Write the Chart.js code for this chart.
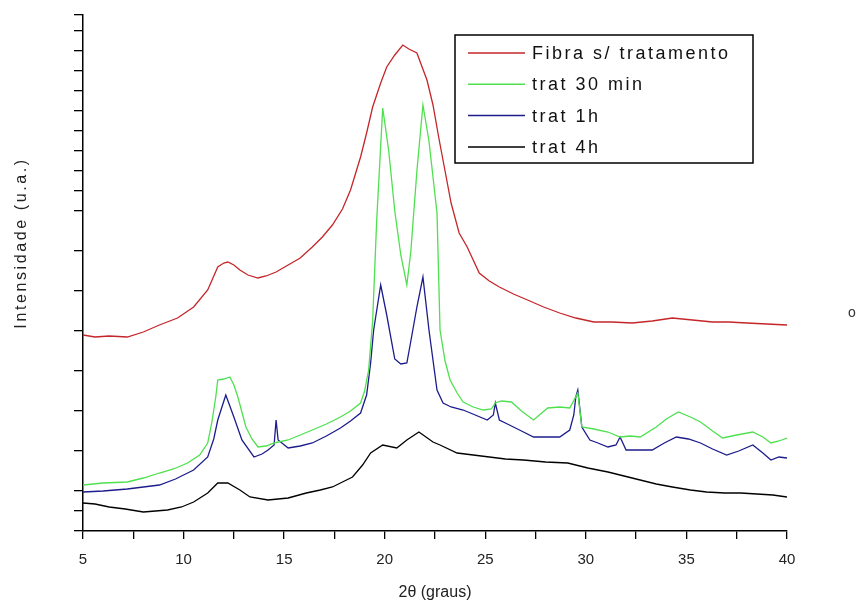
<!DOCTYPE html>
<html>
<head>
<meta charset="utf-8">
<script src="https://cdn.jsdelivr.net/npm/chart.js@4.4.1/dist/chart.umd.min.js"></script>
<style>
  html, body { margin: 0; padding: 0; background: #fff; }
</style>
</head>
<body>
<canvas id="xrdChart" width="857" height="611"></canvas>
<script>
// series names / colours
var seriesLabels = ['Fibra s/ tratamento', 'trat 30 min', 'trat 1h', 'trat 4h'];
var seriesColors = ['#c4262a', '#4fe04f', '#1c1c8c', '#000000'];

// 2theta (graus) and intensity (u.a.)
var fibraX = [5, 5.6, 6.3, 7.2, 8.0, 8.8, 9.7, 10.5, 11.2, 11.7, 12.0, 12.2, 12.5, 12.8, 13.2, 13.7, 14.1, 14.6, 15.2, 15.8, 16.4, 16.9, 17.4, 17.9, 18.3, 18.8, 19.1, 19.4, 19.8, 20.1, 20.5, 20.9, 21.2, 21.6, 22.1, 22.4, 22.7, 23.0, 23.3, 23.7, 24.1, 24.7, 25.2, 25.7, 26.4, 27.1, 27.9, 28.7, 29.5, 30.4, 31.3, 32.3, 33.3, 34.3, 35.3, 36.3, 37.1, 38.0, 39.0, 40];
var fibraY = [9.8, 9.7, 9.75, 9.7, 9.95, 10.3, 10.65, 11.2, 12.05, 13.2, 13.4, 13.45, 13.3, 13.05, 12.8, 12.65, 12.75, 12.95, 13.3, 13.65, 14.2, 14.7, 15.3, 16.1, 17.05, 18.7, 19.9, 21.2, 22.4, 23.2, 23.8, 24.3, 24.1, 23.9, 22.55, 21.3, 19.6, 18.0, 16.4, 14.9, 14.2, 12.9, 12.5, 12.2, 11.85, 11.55, 11.2, 10.9, 10.65, 10.45, 10.45, 10.4, 10.5, 10.65, 10.55, 10.45, 10.45, 10.4, 10.35, 10.3];

var trat30X = [5, 6.0, 7.2, 8.0, 8.8, 9.5, 10.2, 10.8, 11.2, 11.4, 11.6, 11.7, 12.0, 12.3, 12.5, 12.7, 13.1, 13.4, 13.7, 14.1, 14.5, 15.2, 15.8, 16.4, 17.1, 17.8, 18.3, 18.8, 19.0, 19.2, 19.4, 19.6, 19.9, 20.2, 20.5, 20.8, 21.1, 21.3, 21.6, 21.9, 22.2, 22.6, 22.75, 23.0, 23.25, 23.6, 23.9, 24.4, 24.9, 25.3, 25.5, 25.8, 26.3, 26.8, 27.4, 28.1, 28.7, 29.2, 29.6, 29.8, 30.4, 31.1, 31.7, 32.2, 32.7, 33.5, 34.0, 34.6, 35.2, 35.7, 36.3, 36.8, 37.5, 38.3, 38.8, 39.2, 39.6, 40];
var trat30Y = [2.3, 2.4, 2.45, 2.65, 2.9, 3.1, 3.4, 3.8, 4.4, 5.4, 6.7, 7.55, 7.6, 7.7, 7.3, 6.7, 5.2, 4.6, 4.2, 4.25, 4.4, 4.55, 4.8, 5.05, 5.35, 5.7, 6.0, 6.4, 7.0, 8.05, 10.5, 15.5, 21.15, 19.0, 16.0, 13.8, 12.3, 14.0, 18.0, 21.3, 19.5, 15.9, 10.05, 8.5, 7.55, 6.9, 6.45, 6.2, 6.05, 6.1, 6.4, 6.5, 6.45, 6.0, 5.55, 6.15, 6.2, 6.15, 6.9, 5.2, 5.1, 4.95, 4.7, 4.75, 4.7, 5.2, 5.6, 5.95, 5.7, 5.45, 5.0, 4.65, 4.8, 4.95, 4.7, 4.4, 4.5, 4.65];

var trat1hX = [5, 6.0, 7.2, 8.0, 8.8, 9.6, 10.5, 11.2, 11.5, 11.7, 12.1, 12.5, 12.9, 13.5, 13.9, 14.2, 14.5, 14.6, 14.7, 15.2, 15.8, 16.4, 17.1, 17.8, 18.3, 18.8, 19.1, 19.3, 19.45, 19.8, 20.1, 20.5, 20.8, 21.1, 21.3, 21.6, 21.9, 22.2, 22.6, 22.9, 23.3, 23.9, 24.5, 25.1, 25.4, 25.5, 25.7, 26.2, 26.7, 27.4, 28.0, 28.7, 29.2, 29.4, 29.5, 29.6, 29.8, 30.2, 30.6, 31.1, 31.5, 31.7, 32.0, 32.6, 33.3, 33.9, 34.5, 35.1, 35.7, 36.3, 37.0, 37.6, 38.3, 38.8, 39.2, 39.6, 40];
var trat1hY = [1.95, 2.0, 2.1, 2.2, 2.3, 2.6, 3.05, 3.7, 4.6, 5.55, 6.8, 5.7, 4.55, 3.7, 3.85, 4.05, 4.3, 5.55, 4.55, 4.15, 4.25, 4.4, 4.75, 5.15, 5.5, 5.9, 6.8, 8.4, 10.05, 12.3, 10.8, 8.6, 8.35, 8.4, 9.5, 11.2, 12.7, 10.05, 7.05, 6.4, 6.2, 6.05, 5.8, 5.55, 5.8, 6.4, 5.55, 5.3, 5.05, 4.7, 4.7, 4.7, 5.05, 5.8, 6.7, 7.05, 5.2, 4.55, 4.4, 4.2, 4.3, 4.7, 4.05, 4.05, 4.05, 4.4, 4.7, 4.6, 4.4, 4.1, 3.8, 4.0, 4.3, 3.9, 3.55, 3.7, 3.65];

var trat4hX = [5, 5.6, 6.3, 7.1, 8.0, 8.6, 9.2, 9.9, 10.5, 11.2, 11.7, 12.2, 12.8, 13.3, 14.2, 15.2, 16.1, 16.8, 17.4, 17.9, 18.4, 18.9, 19.3, 19.9, 20.6, 21.1, 21.7, 22.4, 22.75, 23.6, 24.4, 25.2, 26.0, 26.9, 28.0, 29.1, 30.1, 31.1, 31.9, 32.7, 33.5, 34.3, 35.2, 36.0, 36.9, 37.7, 38.5, 39.3, 40];
var trat4hY = [1.4, 1.35, 1.2, 1.1, 0.95, 1.0, 1.05, 1.2, 1.45, 1.9, 2.4, 2.4, 2.05, 1.7, 1.55, 1.65, 1.9, 2.05, 2.2, 2.45, 2.7, 3.3, 3.9, 4.3, 4.15, 4.55, 4.95, 4.45, 4.3, 3.9, 3.8, 3.7, 3.6, 3.55, 3.45, 3.4, 3.15, 2.95, 2.75, 2.55, 2.35, 2.2, 2.05, 1.95, 1.9, 1.9, 1.85, 1.8, 1.7];

// unlabeled tick marks on the intensity axis
var yTicks = [0, 1, 2, 4, 6, 8, 10, 12, 14, 16, 17, 18, 19, 20, 21, 22, 23, 24, 25, 25.8];

function zipPoints(xs, ys) {
  var pts = [];
  for (var i = 0; i < xs.length; i++) {
    pts.push({x: xs[i], y: ys[i]});
  }
  return pts;
}

var allX = [fibraX, trat30X, trat1hX, trat4hX];
var allY = [fibraY, trat30Y, trat1hY, trat4hY];
var datasets = [];
for (var i = 0; i < seriesLabels.length; i++) {
  datasets.push({
    label: seriesLabels[i],
    data: zipPoints(allX[i], allY[i]),
    borderColor: seriesColors[i],
    backgroundColor: seriesColors[i],
    borderWidth: 1.3,
    pointRadius: 0,
    tension: 0,
    fill: false
  });
}

// legend box, y title and the stray mark at the right edge
var extrasPlugin = {
  id: 'extras',
  afterDraw: function(chart) {
    var ctx = chart.ctx;
    ctx.save();
    ctx.strokeStyle = '#000';
    ctx.lineWidth = 1.5;
    ctx.strokeRect(455, 35, 298, 128);
    ctx.font = '18px "Liberation Sans", Arial, sans-serif';
    ctx.textBaseline = 'middle';
    ctx.textAlign = 'left';
    chart.data.datasets.forEach(function(ds, k) {
      var y = 53 + k * 31.3;
      ctx.strokeStyle = ds.borderColor;
      ctx.lineWidth = 1.5;
      ctx.beginPath();
      ctx.moveTo(468, y);
      ctx.lineTo(525, y);
      ctx.stroke();
      ctx.fillStyle = '#111';
      ctx.letterSpacing = '2.5px';
      ctx.fillText(ds.label, 532, y + 1);
    });

    // y axis title
    ctx.save();
    ctx.translate(22, 243);
    ctx.rotate(-Math.PI / 2);
    ctx.textAlign = 'center';
    ctx.font = '16px "Liberation Sans", Arial, sans-serif';
    ctx.letterSpacing = '2.6px';
    ctx.fillStyle = '#222';
    ctx.fillText('Intensidade (u.a.)', 0, 0);
    ctx.restore();

    ctx.letterSpacing = '0px';
    ctx.font = '14px "Liberation Sans", Arial, sans-serif';
    ctx.fillStyle = '#333';
    ctx.textAlign = 'center';
    ctx.fillText('o', 852, 313);
    ctx.restore();
  }
};

var ctx = document.getElementById('xrdChart').getContext('2d');
var xrdChart = new Chart(ctx, {
  type: 'line',
  data: { datasets: datasets },
  options: {
    responsive: false,
    animation: false,
    layout: { padding: { top: 15, right: 70, left: 0, bottom: 0 } },
    plugins: {
      legend: { display: false },
      tooltip: { enabled: false }
    },
    scales: {
      x: {
        type: 'linear',
        min: 5,
        max: 40,
        afterFit: function(scale) { scale.height = 80; },
        border: { display: true, color: '#000', width: 1.5 },
        grid: { drawOnChartArea: false, drawTicks: true, tickLength: 8, color: '#000', lineWidth: 1.3 },
        ticks: {
          stepSize: 2.5,
          autoSkip: false,
          maxRotation: 0,
          padding: 12,
          color: '#222',
          font: { family: '"Liberation Sans", Arial, sans-serif', size: 15 },
          callback: function(v) { return v % 5 === 0 ? String(v) : ''; }
        },
        title: {
          display: true,
          text: '2θ (graus)',
          color: '#222',
          font: { family: '"Liberation Sans", Arial, sans-serif', size: 16 },
          padding: { top: 0, bottom: 9 }
        }
      },
      y: {
        type: 'linear',
        min: 0,
        max: 25.8,
        afterFit: function(scale) { scale.width = 83; },
        afterBuildTicks: function(scale) {
          scale.ticks = yTicks.map(function(v) { return {value: v}; });
        },
        border: { display: true, color: '#000', width: 1.5 },
        grid: { drawOnChartArea: false, drawTicks: true, tickLength: 9, color: '#000', lineWidth: 1.3 },
        ticks: { display: false }
      }
    }
  },
  plugins: [extrasPlugin]
});
</script>
</body>
</html>
